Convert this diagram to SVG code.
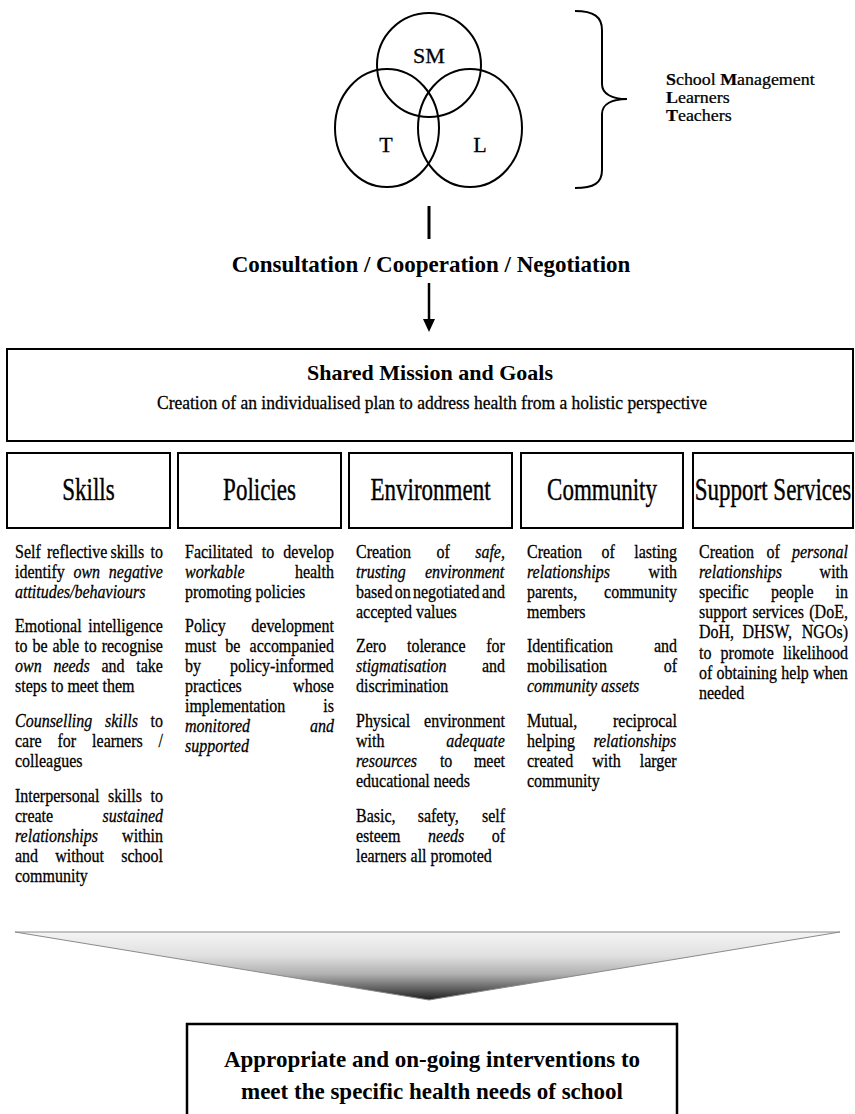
<svg xmlns="http://www.w3.org/2000/svg" width="855" height="1114" viewBox="0 0 855 1114">
<style>
.st{fill:none;stroke:#000;stroke-width:2}
.bx{fill:#fff;stroke:#000;stroke-width:2}
.b{font-family:"Liberation Serif","Times New Roman",serif;font-size:16px;fill:#000;stroke:#000;stroke-width:0.25}
.i{font-style:italic}
.h{font-family:"Liberation Serif","Times New Roman",serif;font-size:23px;fill:#000;stroke:#000;stroke-width:0.3;text-anchor:middle}
.bd{font-family:"Liberation Serif","Times New Roman",serif;font-weight:bold;fill:#000;text-anchor:middle}
.v{font-family:"Liberation Serif","Times New Roman",serif;font-size:22px;fill:#000;stroke:#000;stroke-width:0.3;text-anchor:middle}
.lg{font-family:"Liberation Serif","Times New Roman",serif;font-size:16px;fill:#000;stroke:#000;stroke-width:0.25}
</style>
<defs>
<marker id="ah" viewBox="0 0 13 12" refX="0" refY="6" markerWidth="13" markerHeight="12" markerUnits="userSpaceOnUse" orient="auto">
<path d="M0,0 L13,6 L0,12 z" fill="#000"/>
</marker>
<linearGradient id="tri" gradientUnits="userSpaceOnUse" x1="0" y1="932" x2="0" y2="1000">
<stop offset="0" stop-color="#f4f4f4"/>
<stop offset="0.35" stop-color="#e0e0e0"/>
<stop offset="0.62" stop-color="#b0b0b0"/>
<stop offset="0.85" stop-color="#5a5a5a"/>
<stop offset="1" stop-color="#1e1e1e"/>
</linearGradient>
</defs>

<g id="venn">
<circle class="st" cx="429" cy="65" r="52"/>
<ellipse class="st" cx="387" cy="128" rx="52" ry="59"/>
<ellipse class="st" cx="470" cy="128" rx="52" ry="59"/>
<text class="v" x="429" y="63">SM</text>
<text class="v" x="386" y="152">T</text>
<text class="v" x="480" y="152">L</text>
</g>

<g id="brace">
<path class="st" d="M575,11 C594,11 602,17 602,30 L602,84 C602,94 612,99 627,99 C612,99 602,104 602,114 L602,170 C602,183 594,188 575,188"/>
</g>

<g id="legend">
<text class="lg" x="0" y="0" transform="matrix(1.12 0 0 1 666 85)"><tspan font-weight="bold">S</tspan>chool <tspan font-weight="bold">M</tspan>anagement</text>
<text class="lg" x="0" y="0" transform="matrix(1.12 0 0 1 666 103)"><tspan font-weight="bold">L</tspan>earners</text>
<text class="lg" x="0" y="0" transform="matrix(1.12 0 0 1 666 121)"><tspan font-weight="bold">T</tspan>eachers</text>
</g>

<g id="consultation">
<text class="bd" x="431" y="272" font-size="23">Consultation / Cooperation / Negotiation</text>
</g>

<g id="connectors">
<line x1="429" y1="206" x2="429" y2="239" stroke="#000" stroke-width="3"/>
<line x1="429" y1="283" x2="429" y2="319" stroke="#000" stroke-width="2.5" marker-end="url(#ah)"/>
</g>

<g id="mission">
<rect class="bx" x="7" y="349" width="846" height="92"/>
<text class="bd" x="430" y="380" font-size="22">Shared Mission and Goals</text>
<text class="b" x="432" y="0" text-anchor="middle" font-size="18" textLength="550" lengthAdjust="spacingAndGlyphs" transform="matrix(1 0 0 1.12 0 409)">Creation of an individualised plan to address health from a holistic perspective</text>
</g>

<g id="skills-head">
<rect class="bx" x="7" y="453" width="163" height="75"/>
<text class="h" x="0" y="0" transform="matrix(1 0 0 1.35 88.5 500)">Skills</text>
</g>
<g id="policies-head">
<rect class="bx" x="178" y="453" width="163" height="75"/>
<text class="h" x="0" y="0" transform="matrix(1 0 0 1.35 259.5 500)">Policies</text>
</g>
<g id="environment-head">
<rect class="bx" x="349" y="453" width="163" height="75"/>
<text class="h" x="0" y="0" transform="matrix(1 0 0 1.35 430.5 500)">Environment</text>
</g>
<g id="community-head">
<rect class="bx" x="521" y="453" width="162" height="75"/>
<text class="h" x="0" y="0" transform="matrix(1 0 0 1.35 602 500)">Community</text>
</g>
<g id="support-head">
<rect class="bx" x="693" y="453" width="160" height="75"/>
<text class="h" x="0" y="0" transform="matrix(1 0 0 1.35 773 500)">Support Services</text>
</g>

<g id="skills-text">
<text class="b" transform="matrix(1 0 0 1.2 0 558)"><tspan x="15">Self</tspan><tspan x="47">reflective</tspan><tspan x="110.5">skills</tspan><tspan x="150.5">to</tspan></text>
<text class="b" transform="matrix(1 0 0 1.2 0 578)"><tspan x="15">identify</tspan><tspan x="73.4" class="i">own</tspan><tspan x="108.8" class="i">negative</tspan></text>
<text class="b i" x="15" transform="matrix(1 0 0 1.2 0 598)">attitudes/behaviours</text>
<text class="b" transform="matrix(1 0 0 1.2 0 632)"><tspan x="15">Emotional</tspan><tspan x="88.3">intelligence</tspan></text>
<text class="b" transform="matrix(1 0 0 1.2 0 652)"><tspan x="15">to</tspan><tspan x="32.4">be</tspan><tspan x="52.5">able</tspan><tspan x="84.2">to</tspan><tspan x="101.7">recognise</tspan></text>
<text class="b" transform="matrix(1 0 0 1.2 0 672)"><tspan x="15" class="i">own</tspan><tspan x="53.4" class="i">needs</tspan><tspan x="101.5">and</tspan><tspan x="136.3">take</tspan></text>
<text class="b" x="15" transform="matrix(1 0 0 1.2 0 692)">steps to meet them</text>
<text class="b" transform="matrix(1 0 0 1.2 0 727)"><tspan x="15" class="i">Counselling</tspan><tspan x="105" class="i">skills</tspan><tspan x="150.6">to</tspan></text>
<text class="b" transform="matrix(1 0 0 1.2 0 747)"><tspan x="15">care</tspan><tspan x="57.5">for</tspan><tspan x="92.1">learners</tspan><tspan x="158.6">/</tspan></text>
<text class="b" x="15" transform="matrix(1 0 0 1.2 0 767)">colleagues</text>
<text class="b" transform="matrix(1 0 0 1.2 0 802)"><tspan x="15">Interpersonal</tspan><tspan x="108.1">skills</tspan><tspan x="150.6">to</tspan></text>
<text class="b" transform="matrix(1 0 0 1.2 0 822)"><tspan x="15">create</tspan><tspan x="102.6" class="i">sustained</tspan></text>
<text class="b" transform="matrix(1 0 0 1.2 0 842)"><tspan x="15" class="i">relationships</tspan><tspan x="122.1">within</tspan></text>
<text class="b" transform="matrix(1 0 0 1.2 0 862)"><tspan x="15">and</tspan><tspan x="55.2">without</tspan><tspan x="121.2">school</tspan></text>
<text class="b" x="15" transform="matrix(1 0 0 1.2 0 882)">community</text>
</g>

<g id="policies-text">
<text class="b" transform="matrix(1 0 0 1.2 0 558)"><tspan x="185">Facilitated</tspan><tspan x="261.8">to</tspan><tspan x="283.3">develop</tspan></text>
<text class="b" transform="matrix(1 0 0 1.2 0 578)"><tspan x="185" class="i">workable</tspan><tspan x="294.9">health</tspan></text>
<text class="b" x="185" transform="matrix(1 0 0 1.2 0 598)">promoting policies</text>
<text class="b" transform="matrix(1 0 0 1.2 0 632)"><tspan x="185">Policy</tspan><tspan x="251.3">development</tspan></text>
<text class="b" transform="matrix(1 0 0 1.2 0 652)"><tspan x="185">must</tspan><tspan x="225.3">be</tspan><tspan x="249.6">accompanied</tspan></text>
<text class="b" transform="matrix(1 0 0 1.2 0 672)"><tspan x="185">by</tspan><tspan x="230">policy-informed</tspan></text>
<text class="b" transform="matrix(1 0 0 1.2 0 692)"><tspan x="185">practices</tspan><tspan x="293.1">whose</tspan></text>
<text class="b" transform="matrix(1 0 0 1.2 0 712)"><tspan x="185">implementation</tspan><tspan x="323.3">is</tspan></text>
<text class="b i" transform="matrix(1 0 0 1.2 0 732)"><tspan x="185">monitored</tspan><tspan x="310">and</tspan></text>
<text class="b i" x="185" transform="matrix(1 0 0 1.2 0 752)">supported</text>
</g>

<g id="environment-text">
<text class="b" transform="matrix(1 0 0 1.2 0 558)"><tspan x="356">Creation</tspan><tspan x="436.5">of</tspan><tspan x="475.2" class="i">safe,</tspan></text>
<text class="b i" transform="matrix(1 0 0 1.2 0 578)"><tspan x="356">trusting</tspan><tspan x="425">environment</tspan></text>
<text class="b" transform="matrix(1 0 0 1.2 0 598)"><tspan x="356">based</tspan><tspan x="394.7">on</tspan><tspan x="413">negotiated</tspan><tspan x="482">and</tspan></text>
<text class="b" x="356" transform="matrix(1 0 0 1.2 0 618)">accepted values</text>
<text class="b" transform="matrix(1 0 0 1.2 0 652)"><tspan x="356">Zero</tspan><tspan x="407">tolerance</tspan><tspan x="486.3">for</tspan></text>
<text class="b" transform="matrix(1 0 0 1.2 0 672)"><tspan x="356" class="i">stigmatisation</tspan><tspan x="481.9">and</tspan></text>
<text class="b" x="356" transform="matrix(1 0 0 1.2 0 692)">discrimination</text>
<text class="b" transform="matrix(1 0 0 1.2 0 727)"><tspan x="356">Physical</tspan><tspan x="424.1">environment</tspan></text>
<text class="b" transform="matrix(1 0 0 1.2 0 747)"><tspan x="356">with</tspan><tspan x="446.3" class="i">adequate</tspan></text>
<text class="b" transform="matrix(1 0 0 1.2 0 767)"><tspan x="356" class="i">resources</tspan><tspan x="439.9">to</tspan><tspan x="473.9">meet</tspan></text>
<text class="b" x="356" transform="matrix(1 0 0 1.2 0 787)">educational needs</text>
<text class="b" transform="matrix(1 0 0 1.2 0 822)"><tspan x="356">Basic,</tspan><tspan x="417.7">safety,</tspan><tspan x="482">self</tspan></text>
<text class="b" transform="matrix(1 0 0 1.2 0 842)"><tspan x="356">esteem</tspan><tspan x="427.9" class="i">needs</tspan><tspan x="491.7">of</tspan></text>
<text class="b" x="356" transform="matrix(1 0 0 1.2 0 862)">learners all promoted</text>
</g>

<g id="community-text">
<text class="b" transform="matrix(1 0 0 1.2 0 558)"><tspan x="527">Creation</tspan><tspan x="601.6">of</tspan><tspan x="634.3">lasting</tspan></text>
<text class="b" transform="matrix(1 0 0 1.2 0 578)"><tspan x="527" class="i">relationships</tspan><tspan x="648.6">with</tspan></text>
<text class="b" transform="matrix(1 0 0 1.2 0 598)"><tspan x="527">parents,</tspan><tspan x="604.1">community</tspan></text>
<text class="b" x="527" transform="matrix(1 0 0 1.2 0 618)">members</text>
<text class="b" transform="matrix(1 0 0 1.2 0 652)"><tspan x="527">Identification</tspan><tspan x="653.9">and</tspan></text>
<text class="b" transform="matrix(1 0 0 1.2 0 672)"><tspan x="527">mobilisation</tspan><tspan x="663.7">of</tspan></text>
<text class="b i" x="527" transform="matrix(1 0 0 1.2 0 692)">community assets</text>
<text class="b" transform="matrix(1 0 0 1.2 0 727)"><tspan x="527">Mutual,</tspan><tspan x="613">reciprocal</tspan></text>
<text class="b" transform="matrix(1 0 0 1.2 0 747)"><tspan x="527">helping</tspan><tspan x="593.4" class="i">relationships</tspan></text>
<text class="b" transform="matrix(1 0 0 1.2 0 767)"><tspan x="527">created</tspan><tspan x="592.3">with</tspan><tspan x="639.7">larger</tspan></text>
<text class="b" x="527" transform="matrix(1 0 0 1.2 0 787)">community</text>
</g>

<g id="support-text">
<text class="b" transform="matrix(1 0 0 1.2 0 558)"><tspan x="699">Creation</tspan><tspan x="766.4">of</tspan><tspan x="792" class="i">personal</tspan></text>
<text class="b" transform="matrix(1 0 0 1.2 0 578)"><tspan x="699" class="i">relationships</tspan><tspan x="819.6">with</tspan></text>
<text class="b" transform="matrix(1 0 0 1.2 0 598)"><tspan x="699">specific</tspan><tspan x="770.9">people</tspan><tspan x="835.6">in</tspan></text>
<text class="b" transform="matrix(1 0 0 1.2 0 618)"><tspan x="699">support</tspan><tspan x="752.4">services</tspan><tspan x="809.3">(DoE,</tspan></text>
<text class="b" transform="matrix(1 0 0 1.2 0 638)"><tspan x="699">DoH,</tspan><tspan x="742.4">DHSW,</tspan><tspan x="801.8">NGOs)</tspan></text>
<text class="b" transform="matrix(1 0 0 1.2 0 659)"><tspan x="699">to</tspan><tspan x="720.6">promote</tspan><tspan x="783.1">likelihood</tspan></text>
<text class="b" transform="matrix(1 0 0 1.2 0 679)"><tspan x="699">of</tspan><tspan x="716.6">obtaining</tspan><tspan x="781.3">help</tspan><tspan x="813.2">when</tspan></text>
<text class="b" x="699" transform="matrix(1 0 0 1.2 0 699)">needed</text>
</g>

<g id="funnel">
<polygon points="15,932 840,932 429,1000" fill="url(#tri)" stroke="#8a8a8a" stroke-width="1"/>
</g>

<g id="outcome">
<rect x="187" y="1024" width="490" height="110" fill="#fff" stroke="#000" stroke-width="2.5"/>
<text class="bd" x="432" y="1067" font-size="23">Appropriate and on-going interventions to</text>
<text class="bd" x="432" y="1099" font-size="23">meet the specific health needs of school</text>
</g>
</svg>
